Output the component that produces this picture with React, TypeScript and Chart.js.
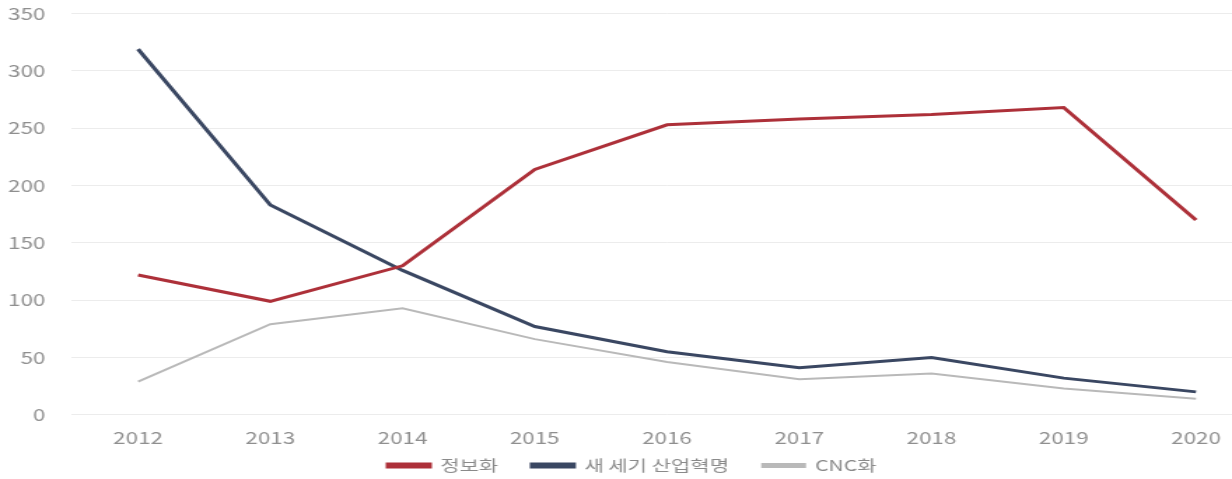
import React, { useEffect, useRef } from "react";
import { Chart, registerables } from "chart.js";

Chart.register(...registerables);

const years = ["2012", "2013", "2014", "2015", "2016", "2017", "2018", "2019", "2020"];
const informatization = [122, 99, 130, 214, 253, 258, 262, 268, 170];
const newCenturyRevolution = [319, 183, 126, 77, 55, 41, 50, 32, 20];
const cncSeries = [29, 79, 93, 66, 46, 31, 36, 23, 14];
const seriesNames = ["정보화", "새 세기 산업혁명", "CNC화"];

const FONT = "'Noto Sans CJK KR', 'Noto Sans', sans-serif";
const STRETCH = 1.4;
const SHIFT_UP = 14.6;
const LEGEND_CENTER_Y = 466 + SHIFT_UP;

const legendShift = {
  id: "legendShift",
  afterLayout(chart: any) {
    const lg = chart.legend;
    if (!lg) return;
    const pad = lg.options.labels.padding;
    const size = lg.options.labels.font.size;
    const current = lg.top + pad + size / 2;
    const dy = LEGEND_CENTER_Y - current;
    lg.top += dy;
    lg.bottom += dy;
    if (lg.legendHitBoxes) {
      for (const hb of lg.legendHitBoxes) hb.top += dy;
    }
  },
};

export default function App() {
  const ref = useRef<HTMLCanvasElement | null>(null);

  useEffect(() => {
    if (!ref.current) return;
    const chart = new Chart(ref.current, {
      type: "line",
      data: {
        labels: years,
        datasets: [
          {
            label: seriesNames[0],
            data: informatization,
            borderColor: "#ad3039",
            backgroundColor: "#ad3039",
            borderWidth: 3,
            pointRadius: 0,
            tension: 0,
          },
          {
            label: seriesNames[1],
            data: newCenturyRevolution,
            borderColor: "#3a4762",
            backgroundColor: "#3a4762",
            borderWidth: 3,
            pointRadius: 0,
            tension: 0,
          },
          {
            label: seriesNames[2],
            data: cncSeries,
            borderColor: "#b9b9b9",
            backgroundColor: "#b9b9b9",
            borderWidth: 2,
            pointRadius: 0,
            tension: 0,
          },
        ],
      },
      plugins: [legendShift],
      options: {
        animation: false,
        responsive: true,
        maintainAspectRatio: false,
        layout: { padding: { top: 0, left: 0, right: 0, bottom: 0 } },
        plugins: {
          tooltip: { enabled: false },
          legend: {
            position: "bottom",
            labels: {
              boxWidth: 30,
              boxHeight: 3,
              padding: 24,
              color: "#8a8a8a",
              font: { family: FONT, size: 15 },
            },
          },
        },
        scales: {
          x: {
            offset: true,
            grid: { display: false },
            border: { display: false },
            ticks: {
              color: "#8f8f8f",
              padding: 6,
              font: { family: FONT, size: 16 },
              maxRotation: 0,
            },
          },
          y: {
            min: 0,
            max: 350,
            grid: { color: "#ececec", lineWidth: 1, drawTicks: false },
            border: { display: false },
            ticks: {
              stepSize: 50,
              color: "#8f8f8f",
              padding: 19,
              font: { family: FONT, size: 16 },
            },
            afterFit: (axis: any) => {
              axis.width = 51.4;
            },
          },
        },
      },
    });
    return () => chart.destroy();
  }, []);

  return (
    <div
      style={{
        position: "fixed",
        left: 0,
        top: 0,
        width: 1232,
        height: 479,
        overflow: "hidden",
        background: "#ffffff",
      }}
    >
      <div
        style={{
          position: "absolute",
          left: 0,
          top: -SHIFT_UP,
          width: 903,
          height: 518,
          transform: `scaleX(${STRETCH})`,
          transformOrigin: "0 0",
        }}
      >
        <canvas ref={ref} />
      </div>
    </div>
  );
}
